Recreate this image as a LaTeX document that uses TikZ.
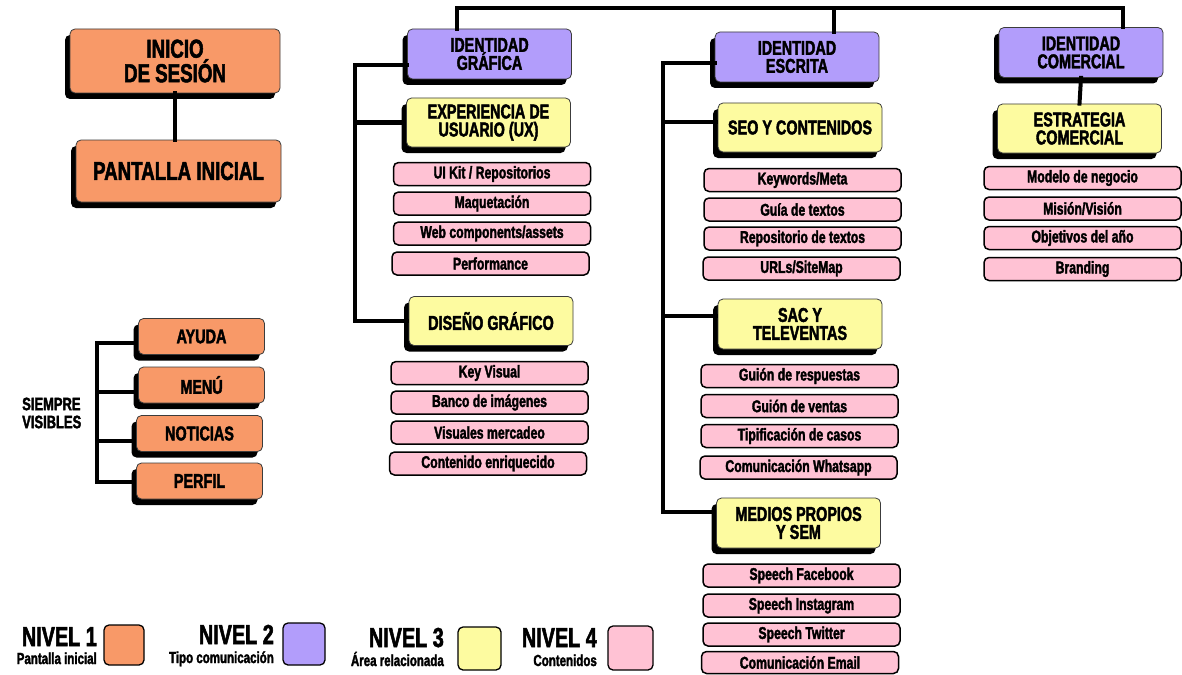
\documentclass[tikz,border=0pt]{standalone}
\usepackage{fontspec}
\setmainfont{Liberation Sans}[FakeStretch=0.72, BoldFeatures={FakeBold=2}]
\usetikzlibrary{shadows}
\definecolor{cOr}{RGB}{248,153,104}
\definecolor{cPu}{RGB}{178,157,251}
\definecolor{cYe}{RGB}{253,251,160}
\definecolor{cPi}{RGB}{255,194,212}
\definecolor{cEdge}{RGB}{60,60,60}
\begin{document}
\begin{tikzpicture}[x=1pt,y=-1pt,
  box/.style={rounded corners=5pt, draw=cEdge, line width=0.8pt, align=center, inner sep=0pt,
    drop shadow={shadow xshift=-5pt, shadow yshift=-6pt, opacity=1, fill=black}},
  lvA/.style={box, fill=cOr, font=\bfseries\fontsize{26}{24.5}\selectfont},
  lvAs/.style={box, fill=cOr, font=\bfseries\fontsize{20}{18}\selectfont, minimum width=126pt, minimum height=36pt},
  lvB/.style={box, fill=cPu, font=\bfseries\fontsize{20}{18}\selectfont, minimum width=164pt, minimum height=50pt},
  lvC/.style={box, fill=cYe, font=\bfseries\fontsize{20}{18}\selectfont, minimum width=164pt, minimum height=49pt},
  lvD/.style={rounded corners=5pt, draw=black, line width=1.5pt, fill=cPi, inner sep=0pt,
    font=\bfseries\fontsize{17}{17}\selectfont, minimum width=197pt, minimum height=23pt},
  link/.style={line width=4pt, line cap=rect},
  legbox/.style={rounded corners=5pt, draw=black, line width=1.3pt},
  legbig/.style={font=\bfseries\fontsize{27.5}{27}\selectfont, anchor=base east, inner sep=0pt},
  legsmall/.style={font=\bfseries\fontsize{16}{16}\selectfont, anchor=base east, inner sep=0pt}
]
\useasboundingbox[fill=white] (0,0) rectangle (1182,674);

\coordinate (t1) at (457,8);
\coordinate (t2) at (834,8);
\coordinate (t3) at (1123,8);
\coordinate (v1) at (355,65);
\coordinate (v2) at (663,63);
\coordinate (vs) at (97,343);

% ---------- level 1 ----------
\node[lvA, minimum width=210pt, minimum height=64pt] (inicio) at (175,61) {INICIO\\DE SESIÓN};
\node[lvA, minimum width=205pt, minimum height=62pt] (pantalla) at (178.5,171) {PANTALLA INICIAL};

\node[lvAs] (ayuda) at (201.5,336.5) {AYUDA};
\node[lvAs] (menu) at (201.5,385) {MENÚ};
\node[lvAs] (noticias) at (199.5,433.5) {NOTICIAS};
\node[lvAs] (perfil) at (199.5,481) {PERFIL};
\node[font=\bfseries\fontsize{18}{18}\selectfont, align=left, anchor=west, inner sep=0pt] (siempre) at (22,413) {SIEMPRE\\VISIBLES};

% ---------- level 2 ----------
\node[lvB] (idg) at (489.5,54) {IDENTIDAD\\GRÁFICA};
\node[lvB] (ide) at (797,57) {IDENTIDAD\\ESCRITA};
\node[lvB] (idc) at (1081,52.5) {IDENTIDAD\\COMERCIAL};

% ---------- level 3 ----------
\node[lvC] (ux) at (488.5,122.5) {EXPERIENCIA DE\\USUARIO (UX)};
\node[lvC] (dg) at (491,321) {DISEÑO GRÁFICO};
\node[lvC] (seo) at (800,127.5) {SEO Y CONTENIDOS};
\node[lvC, minimum height=50pt] (sac) at (800,324) {SAC Y\\TELEVENTAS};
\node[lvC, minimum height=50pt] (med) at (798.5,523) {MEDIOS PROPIOS\\Y SEM};
\node[lvC] (est) at (1079.5,128.5) {ESTRATEGIA\\COMERCIAL};

% ---------- level 4 ----------
\node[lvD] (uikit) at (492,174) {UI Kit / Repositorios};
\node[lvD] (maq) at (492,203.5) {Maquetación};
\node[lvD] (web) at (492,233.5) {Web components/assets};
\node[lvD] (perf) at (490.5,263.5) {Performance};
\node[lvD] (kv) at (489.5,373) {Key Visual};
\node[lvD] (banco) at (489.5,402.5) {Banco de imágenes};
\node[lvD] (vis) at (489.5,432.5) {Visuales mercadeo};
\node[lvD] (cont) at (488,463.5) {Contenido enriquecido};

\node[lvD] (kw) at (802.5,180) {Keywords/Meta};
\node[lvD] (guia) at (802.5,209.5) {Guía de textos};
\node[lvD] (repo) at (802.5,238.5) {Repositorio de textos};
\node[lvD] (urls) at (801.5,268.5) {URLs/SiteMap};
\node[lvD] (gresp) at (799.5,376) {Guión de respuestas};
\node[lvD] (gvent) at (799.5,406) {Guión de ventas};
\node[lvD] (tipif) at (799.5,436) {Tipificación de casos};
\node[lvD] (whats) at (798.5,467.5) {Comunicación Whatsapp};
\node[lvD] (sfb) at (801.5,575.5) {Speech Facebook};
\node[lvD] (sig) at (801.5,605.5) {Speech Instagram};
\node[lvD] (stw) at (801.5,634.5) {Speech Twitter};
\node[lvD, minimum height=22pt] (email) at (800,662.5) {Comunicación Email};

\node[lvD] (modelo) at (1082.5,178) {Modelo de negocio};
\node[lvD] (mision) at (1082.5,208.5) {Misión/Visión};
\node[lvD] (obj) at (1082.5,238) {Objetivos del año};
\node[lvD] (brand) at (1082.5,269) {Branding};

% ---------- connectors ----------
\draw[link] (t1 |- idg.north) -- (t1) -- (t3) -- (t3 |- idc.north);
\draw[link] (t2) -- (t2 |- ide.north);
\draw[link] (inicio.south) -- (inicio.south |- pantalla.north);
\draw[link] (idc.south) -- (est.north);
\draw[link] (idg.west |- v1) -- (v1) -- (v1 |- dg.west) -- ([xshift=-2pt]dg.west);
\draw[link] (v1 |- ux.west) -- ([xshift=-2pt]ux.west);
\draw[link] (ide.west |- v2) -- (v2) -- (v2 |- 0,512) -- ([xshift=-2pt]med.west |- 0,512);
\draw[link] (v2 |- 0,122) -- ([xshift=-2pt]seo.west |- 0,122);
\draw[link] (v2 |- 0,316) -- ([xshift=-2pt]sac.west |- 0,316);
\draw[link] ([xshift=-2pt]ayuda.west |- vs) -- (vs) -- (vs |- 0,482) -- ([xshift=-2pt]perfil.west |- 0,482);
\draw[link] (vs |- 0,392) -- ([xshift=-2pt]menu.west |- 0,392);
\draw[link] (vs |- 0,441) -- ([xshift=-2pt]noticias.west |- 0,441);

% ---------- legend ----------
\node[legbox, fill=cOr, minimum width=40pt, minimum height=40pt] (leg1) at (124,645) {};
\node[legbox, fill=cPu, minimum width=42pt, minimum height=42pt] (leg2) at (304,644) {};
\node[legbox, fill=cYe, minimum width=43pt, minimum height=43pt] (leg3) at (479.5,648.5) {};
\node[legbox, fill=cPi, minimum width=45pt, minimum height=44pt] (leg4) at (630.5,648) {};
\node[legbig] (n1) at (97,646) {NIVEL 1};
\node[legsmall] (s1) at (97,664) {Pantalla inicial};
\node[legbig] (n2) at (274,644) {NIVEL 2};
\node[legsmall] (s2) at (274,663) {Tipo comunicación};
\node[legbig] (n3) at (444,647) {NIVEL 3};
\node[legsmall] (s3) at (444,666) {Área relacionada};
\node[legbig] (n4) at (597,647) {NIVEL 4};
\node[legsmall] (s4) at (597,666) {Contenidos};
\end{tikzpicture}
\end{document}
